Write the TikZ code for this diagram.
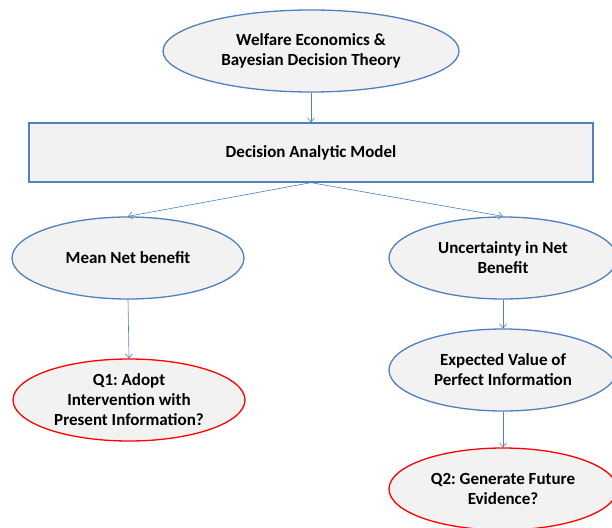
\documentclass[tikz,border=0pt]{standalone}
\usepackage{fontspec}
\setmainfont{Carlito}
\frenchspacing
\usetikzlibrary{shapes.geometric,arrows.meta}
\definecolor{boxblue}{HTML}{4F81BD}
\definecolor{boxfill}{HTML}{F2F2F2}
\definecolor{qred}{HTML}{FF0000}
\tikzset{
  oval/.style={ellipse, draw=boxblue, line width=1.3pt, fill=boxfill,
    inner sep=0pt, align=center, font=\fontsize{17}{20}\selectfont\bfseries},
  question/.style={oval, draw=qred},
  modelbox/.style={rectangle, draw=boxblue, line width=1.3pt, fill=boxfill,
    inner sep=0pt, font=\fontsize{17}{20}\selectfont\bfseries},
  link/.style={draw=boxblue, line width=0.6pt,
    -{Straight Barb[length=4pt,width=7pt,line width=0.6pt]}}
}
\begin{document}
\begin{tikzpicture}[x=1pt,y=1pt]
  \useasboundingbox (0,0) rectangle (612,-527);
  \clip (0,0) rectangle (612,-527);
  \fill[white] (0,0) rectangle (612,-527);

  \node[oval, minimum width=296pt, minimum height=82pt] (theory) at (311,-51)
    {Welfare Economics \&\\Bayesian Decision Theory};
  \node[modelbox, minimum width=564pt, minimum height=59pt] (model) at (311,-152.5)
    {Decision Analytic Model};
  \node[oval, minimum width=232pt, minimum height=82pt] (mean) at (128,-258)
    {Mean Net benefit};
  \node[oval, minimum width=228pt, minimum height=82pt] (uncert) at (503,-258)
    {Uncertainty in Net\\Benefit};
  \node[question, minimum width=232pt, minimum height=82pt] (q1) at (129,-400)
    {Q1: Adopt\\Intervention with\\Present Information?};
  \node[oval, minimum width=228pt, minimum height=82pt] (evpi) at (503,-370)
    {Expected Value of\\Perfect Information};
  \node[question, minimum width=228pt, minimum height=82pt] (q2) at (503,-489)
    {Q2: Generate Future\\Evidence?};

  \draw[link] (theory.south) -- (model.north);
  \draw[link] (model.south) -- (mean.north);
  \draw[link] (model.south) -- (uncert.north);
  \draw[link] (mean.south) -- (q1.north);
  \draw[link] (uncert.south) -- (evpi.north);
  \draw[link] (evpi.south) -- (q2.north);
\end{tikzpicture}
\end{document}
